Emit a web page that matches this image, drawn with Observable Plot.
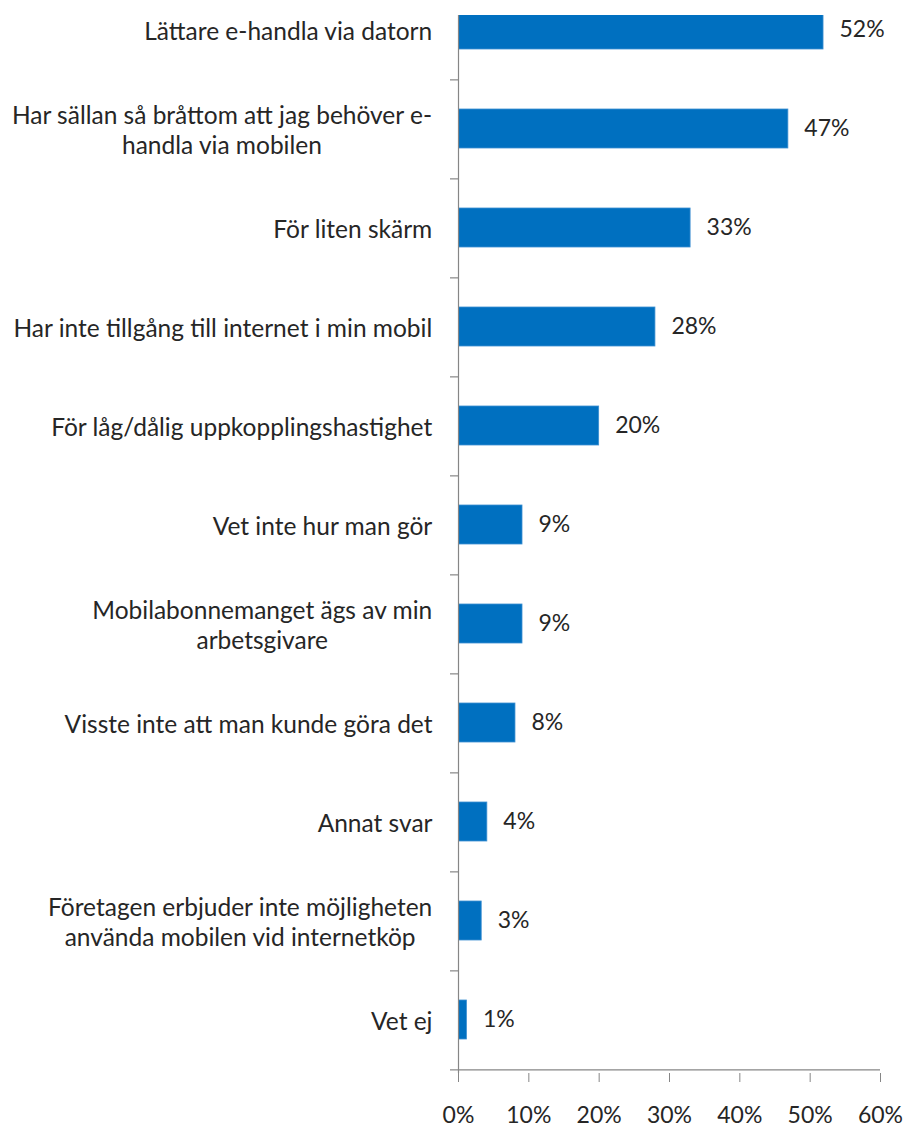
<!DOCTYPE html>
<html>
<head>
<meta charset="utf-8">
<script src="https://cdn.jsdelivr.net/npm/d3@7"></script>
<script src="https://cdn.jsdelivr.net/npm/@observablehq/plot@0.6"></script>
<style>
  html, body { margin: 0; padding: 0; background: #fff; }
  #chart svg { display: block; }
</style>
</head>
<body>
<div id="chart"></div>
<script>
const categories = [
  "Lättare e-handla via datorn",
  "Har sällan så bråttom att jag behöver e-\nhandla via mobilen",
  "För liten skärm",
  "Har inte tillgång till internet i min mobil",
  "För låg/dålig uppkopplingshastighet",
  "Vet inte hur man gör",
  "Mobilabonnemanget ägs av min\narbetsgivare",
  "Visste inte att man kunde göra det",
  "Annat svar",
  "Företagen erbjuder inte möjligheten\nanvända mobilen vid internetköp",
  "Vet ej"
];
const values = [51.9, 46.9, 33, 28, 20, 9.1, 9.1, 8.1, 4.1, 3.3, 1.2];
const valueLabels = ["52%", "47%", "33%", "28%", "20%", "9%", "9%", "8%", "4%", "3%", "1%"];
const xTicks = [0, 10, 20, 30, 40, 50, 60];

const data = categories.map((c, i) => ({category: c, value: values[i], label: valueLabels[i]}));

const W = 906, H = 1128;
const mL = 458, mR = 26, mT = 15, mB = 55;
const yRange = [-24, H - mB];
const step = (yRange[1] - yRange[0]) / categories.length;
const FONT = "Lato, 'Open Sans', sans-serif";
const FS = 23;
const LFS = 24.5;
const textColor = "#262626";
const axisColor = "#868686";

// measure widest line of each label for centered multi-line alignment
const ctx = document.createElement("canvas").getContext("2d");
ctx.font = `${LFS}px Lato`;
const labelWidth = c => Math.max(...c.split("\n").map(s => ctx.measureText(s).width));

const labelMarks = categories.map(c =>
  Plot.text([c], {
    x: 0, y: d => d, text: d => d,
    textAnchor: "middle",
    dx: -(26 + labelWidth(c) / 2),
    lineHeight: 1.22,
    fill: textColor, fontSize: LFS
  })
);

const chart = Plot.plot({
  width: W, height: H,
  marginLeft: mL, marginRight: mR, marginTop: mT, marginBottom: mB,
  style: {fontFamily: FONT, fontSize: FS + "px", color: textColor, background: "#fff"},
  x: {domain: [0, 60], ticks: xTicks, tickFormat: d => d + "%", label: null},
  y: {domain: categories, range: yRange, padding: 0, axis: null, label: null},
  marks: [
    Plot.barX(data, {x: "value", y: "category", fill: "#0070C0", stroke: "#3d8fd1", strokeWidth: 0.8,
      insetTop: 30, insetBottom: 30, clip: true}),
    Plot.text(data, {x: "value", y: "category", text: "label", textAnchor: "start", dx: 16,
      fill: textColor, fontSize: FS}),
    ...labelMarks,
    Plot.ruleX([0], {stroke: axisColor, strokeWidth: 1.2}),
    Plot.ruleY(categories, {y: d => d, x1: 0, x2: 0, insetLeft: -8, dy: step / 2,
      stroke: axisColor, strokeWidth: 1.2}),
    Plot.ruleY([categories[categories.length - 1]], {y: d => d, x1: 0, x2: 60, dy: step / 2,
      stroke: axisColor, strokeWidth: 1.2}),
    Plot.axisX({ticks: xTicks, tickFormat: d => d + "%", tickSize: 9, tickPadding: 24,
      stroke: axisColor, fill: textColor, fontSize: FS, label: null})
  ]
});
document.getElementById("chart").appendChild(chart);
</script>
</body>
</html>
